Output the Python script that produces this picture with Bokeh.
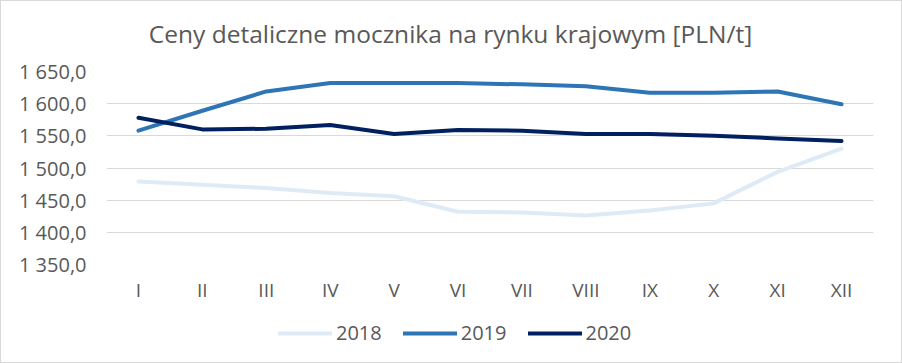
from bokeh.plotting import figure
from bokeh.layouts import column
from bokeh.models import FactorRange, Range1d, Legend, LegendItem, FixedTicker, Label
from bokeh.embed import file_html
from bokeh.resources import INLINE

months = ["I", "II", "III", "IV", "V", "VI", "VII", "VIII", "IX", "X", "XI", "XII"]
y2018 = [1479, 1474, 1469, 1461, 1456, 1432, 1431, 1426, 1434, 1445, 1494, 1530]
y2019 = [1558, 1589, 1619, 1632, 1632, 1632, 1630, 1627, 1617, 1617, 1619, 1599]
y2020 = [1578, 1560, 1561, 1567, 1553, 1559, 1558, 1553, 1553, 1550, 1546, 1542]
y_ticks = [1350, 1400, 1450, 1500, 1550, 1600, 1650]
series_names = ["2018", "2019", "2020"]
series_colors = ["#DEEBF7", "#2E75B6", "#002060"]

title_text = "Ceny detaliczne mocznika na rynku krajowym [PLN/t]"
GRAY = "#595959"
FONT = "Open Sans"
NAN = float("nan")
W = 902


def strip(h):
    s = figure(x_range=Range1d(0, W), y_range=Range1d(0, h),
               frame_width=W, frame_height=h,
               output_backend="svg", toolbar_location=None,
               min_border=0, x_axis_location=None, y_axis_location=None)
    s.outline_line_color = None
    s.border_fill_color = None
    s.background_fill_color = None
    s.grid.grid_line_color = None
    return s


# ---- title strip ----
TH = 55
ts = strip(TH)
ts.add_layout(Label(x=344, y=TH - 33, text=title_text, text_align="center",
                    text_baseline="middle", text_font=FONT,
                    text_font_size="24.5px", text_color=GRAY))

# ---- main chart ----
p = figure(
    x_range=FactorRange(*months, range_padding=0),
    y_range=Range1d(1350, 1650),
    frame_width=767, frame_height=193,
    output_backend="svg", toolbar_location=None,
    min_border_left=106, min_border_right=29,
    min_border_top=16, min_border_bottom=46,
)
p.outline_line_color = None
p.border_fill_color = None
p.background_fill_color = None
p.xgrid.grid_line_color = None
p.ygrid.grid_line_color = "#D9D9D9"
p.ygrid.grid_line_width = 1

p.yaxis.ticker = FixedTicker(ticks=y_ticks)
p.yaxis.major_label_overrides = {
    v: f"{v:,.1f}".replace(",", " ").replace(".", ",") for v in y_ticks
}
for ax in (p.xaxis[0], p.yaxis[0]):
    ax.axis_line_color = None
    ax.major_tick_line_color = None
    ax.minor_tick_line_color = None
    ax.major_label_text_font = FONT
    ax.major_label_text_color = GRAY
p.yaxis.major_label_text_font_size = "20px"
p.yaxis.major_label_standoff = 14
p.xaxis.major_label_text_font_size = "19px"
p.xaxis.major_label_standoff = 6

renderers = []
for name, ys, col in zip(series_names, [y2018, y2019, y2020], series_colors):
    r = p.line(months, ys, line_color=col, line_width=4,
               line_cap="round", line_join="round")
    renderers.append(r)

# ---- legend strip ----
lg = strip(53)
key_renderers = []
for col in series_colors:
    key_renderers.append(lg.line(x=[NAN, NAN], y=[NAN, NAN], line_color=col,
                                 line_width=4, line_cap="round"))
legend = Legend(
    items=[LegendItem(label=n, renderers=[r]) for n, r in zip(series_names, key_renderers)],
    orientation="horizontal", location=(278, 17),
    glyph_width=54, glyph_height=20, label_standoff=4, spacing=21,
    label_text_font=FONT, label_text_font_size="20px", label_text_color=GRAY,
    border_line_color=None, background_fill_alpha=0, padding=6, margin=0,
)
lg.add_layout(legend, "center")

layout = column(ts, p, lg, spacing=0)
layout.styles = {"box-shadow": "inset 0 0 0 1px #D9D9D9", "background-color": "white"}

open("out.html", "w").write(file_html(layout, INLINE))
